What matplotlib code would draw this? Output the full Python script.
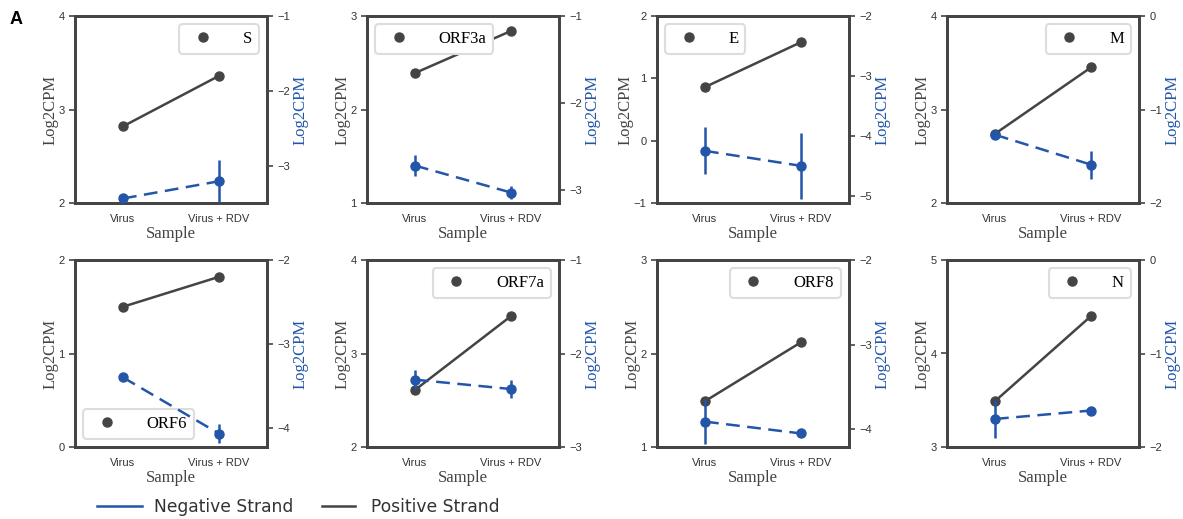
import matplotlib
matplotlib.use("Agg")
import matplotlib.pyplot as plt
from matplotlib.lines import Line2D

samples = ["Virus", "Virus + RDV"]
genes = ["S", "ORF3a", "E", "M", "ORF6", "ORF7a", "ORF8", "N"]

# positive strand (left axis)
pos_vals = [[2.82, 3.36], [2.39, 2.84], [0.86, 1.58], [2.74, 3.45],
            [1.50, 1.82], [2.61, 3.40], [1.49, 2.12], [3.49, 4.40]]
pos_err = [[0.0, 0.0], [0.0, 0.0], [0.0, 0.0], [0.0, 0.04],
           [0.0, 0.0], [0.0, 0.0], [0.0, 0.0], [0.0, 0.0]]
pos_ylim = [(2, 4), (1, 3), (-1, 2), (2, 4), (0, 2), (2, 4), (1, 3), (3, 5)]

# negative strand (right axis)
neg_vals = [[-3.43, -3.20], [-2.72, -3.03], [-4.25, -4.50], [-1.27, -1.59],
            [-3.40, -4.07], [-2.28, -2.38], [-3.91, -4.05], [-1.70, -1.61]]
neg_err = [[0.02, 0.28], [0.12, 0.07], [0.39, 0.55], [0.02, 0.15],
           [0.02, 0.11], [0.10, 0.10], [0.27, 0.02], [0.20, 0.02]]
neg_ylim = [(-3.49, -1), (-3.15, -1), (-5.12, -2), (-2, 0),
            (-4.23, -2), (-3, -1), (-4.21, -2), (-2, 0)]
neg_ticks = [[-3, -2, -1], [-3, -2, -1], [-5, -4, -3, -2], [-2, -1, 0],
             [-4, -3, -2], [-3, -2, -1], [-4, -3, -2], [-2, -1, 0]]

legend_loc = ["upper right", "upper left", "upper left", "upper right",
              "lower left", "upper right", "upper right", "upper right"]

POS_COLOR = "#444444"
NEG_COLOR = "#2356a8"
SPINE = "#444444"
SERIF = "Liberation Serif"
SANS = "Liberation Sans"

fig = plt.figure(figsize=(11.83, 5.19), dpi=100)
W, H = 1183, 519
lefts = [75, 367, 657, 947]
tops = [16, 260]
aw, ah = 192, 187

x = [0, 1]


def style_axis(ax):
    for sp in ax.spines.values():
        sp.set_color(SPINE)
        sp.set_linewidth(2)
    ax.tick_params(axis="y", length=4, width=1.2, color=SPINE,
                   labelsize=8, labelcolor="#333333")
    ax.tick_params(axis="x", length=0, labelsize=8, labelcolor="#333333", pad=8)
    for lab in ax.get_xticklabels() + ax.get_yticklabels():
        lab.set_fontfamily(SANS)


for i, gene in enumerate(genes):
    r, c = divmod(i, 4)
    ax = fig.add_axes([lefts[c] / W, 1 - (tops[r] + ah) / H, aw / W, ah / H])
    ax.errorbar(x, pos_vals[i], yerr=pos_err[i], color=POS_COLOR, lw=1.8,
                marker="o", ms=6.5, elinewidth=1.8, label=gene, zorder=3)
    ax.set_xlim(-0.5, 1.5)
    ax.set_ylim(*pos_ylim[i])
    lo, hi = pos_ylim[i]
    ax.set_yticks(range(int(lo), int(hi) + 1))
    ax.set_xticks(x)
    ax.set_xticklabels(samples)
    ax.set_xlabel("Sample", fontfamily=SERIF, fontsize=12, color="#444444", labelpad=1)
    ax.set_ylabel("Log2CPM", fontfamily=SERIF, fontsize=12, color="#444444", labelpad=0)
    style_axis(ax)
    leg = ax.legend(handles=[Line2D([], [], color=POS_COLOR, marker="o", ms=6.5, lw=0)],
                    labels=[gene], loc=legend_loc[i], prop={"family": SERIF, "size": 12},
                    handletextpad=1.4, borderpad=0.4, fancybox=True, framealpha=1)
    leg.get_frame().set_edgecolor("#dddddd")
    leg.get_frame().set_linewidth(1.5)

    ax2 = ax.twinx()
    ax2.errorbar(x, neg_vals[i], yerr=neg_err[i], color=NEG_COLOR, lw=1.8,
                 marker="o", ms=6.5, elinewidth=1.8, dashes=(5.5, 3), zorder=3)
    ax2.set_ylim(*neg_ylim[i])
    ax2.set_yticks(neg_ticks[i])
    ax2.set_ylabel("Log2CPM", fontfamily=SERIF, fontsize=12, color=NEG_COLOR, labelpad=2)
    style_axis(ax2)
    ax2.set_xlim(-0.5, 1.5)

fig.text(10 / W, 1 - 24 / H, "A", fontfamily=SANS, fontweight="bold", fontsize=13)

# bottom legend: two entries with different handle lengths
strand_labels = ["Negative Strand", "Positive Strand"]
strand_colors = [NEG_COLOR, POS_COLOR]
strand_x = [97, 322]
strand_handle = [2.65, 1.95]
strand_pad = [0.7, 0.9]
for lbl, col, sx, hl, tp in zip(strand_labels, strand_colors, strand_x, strand_handle, strand_pad):
    lg = fig.legend(handles=[Line2D([], [], color=col, lw=1.8)], labels=[lbl],
                    loc="center left", bbox_to_anchor=(sx / W, 1 - 507 / H),
                    frameon=False, borderpad=0, borderaxespad=0,
                    prop={"family": "DejaVu Sans", "size": 12.3},
                    handlelength=hl, handletextpad=tp)
    for t in lg.get_texts():
        t.set_color("#333333")

fig.savefig("out.png", dpi=100)
